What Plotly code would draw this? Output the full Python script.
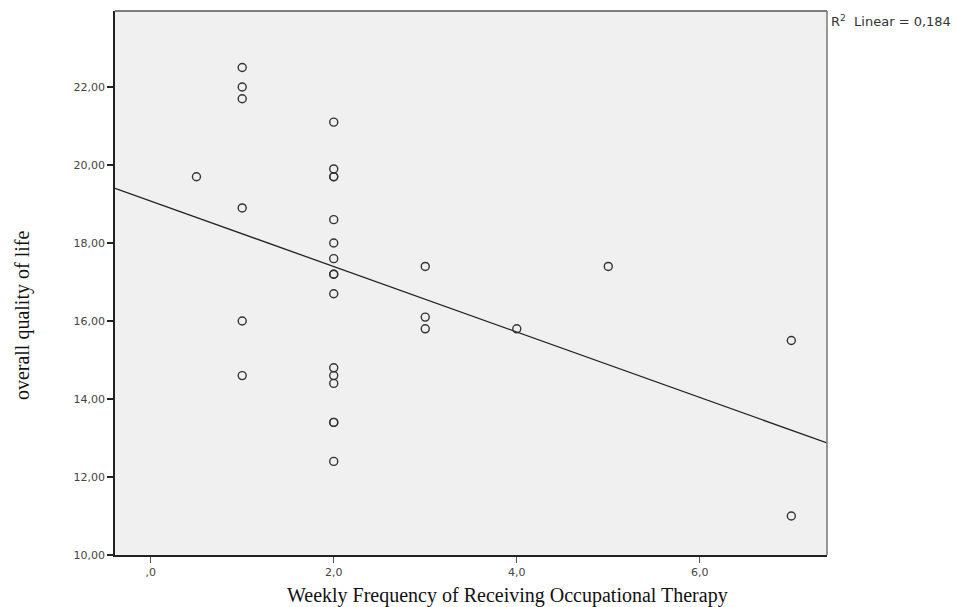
import numpy as np
import plotly.graph_objects as go

freq = [0.5,
        1, 1, 1, 1, 1, 1,
        2, 2, 2, 2, 2, 2, 2, 2, 2, 2, 2, 2, 2, 2, 2, 2,
        3, 3, 3,
        4, 5, 7, 7]
qol = [19.7,
       22.5, 22.0, 21.7, 18.9, 16.0, 14.6,
       21.1, 19.9, 19.7, 19.7, 18.6, 18.0, 17.6, 17.2, 17.2, 16.7, 14.8, 14.6, 14.4, 13.4, 13.4, 12.4,
       17.4, 16.1, 15.8,
       15.8, 17.4, 15.5, 11.0]

x_tickvals = [0, 2, 4, 6]
x_ticktext = [",0", "2,0", "4,0", "6,0"]
y_tickvals = [10, 12, 14, 16, 18, 20, 22]
y_ticktext = ["10,00", "12,00", "14,00", "16,00", "18,00", "20,00", "22,00"]

x_range = [-0.39, 7.39]
y_range = [10, 23.95]

slope, intercept = np.polyfit(freq, qol, 1)
fit_x = np.array(x_range)
fit_y = intercept + slope * fit_x

TICKFONT = dict(family="DejaVu Sans, Arial, sans-serif", size=11, color="#444444")
SERIF = dict(family="Liberation Serif, Times New Roman, serif", size=20, color="#111111")

fig = go.Figure()
fig.add_trace(go.Scatter(x=fit_x, y=fit_y, mode="lines",
                         line=dict(color="#222222", width=1.3),
                         hoverinfo="skip", showlegend=False))
fig.add_trace(go.Scatter(x=freq, y=qol, mode="markers",
                         marker=dict(symbol="circle-open", size=8,
                                     color="#333333", line=dict(width=1.4)),
                         showlegend=False))

fig.update_layout(
    width=956, height=607,
    margin=dict(l=115, r=129, t=11, b=52),
    paper_bgcolor="white",
    plot_bgcolor="#F0F0F0",
    font=TICKFONT,
    xaxis=dict(range=x_range, tickvals=x_tickvals, ticktext=x_ticktext,
               showgrid=False, zeroline=False,
               showline=True, linecolor="#222222", linewidth=1.5,
               ticks="outside", ticklen=6, tickwidth=1.2, tickcolor="#555555",
               tickfont=TICKFONT),
    yaxis=dict(range=y_range, tickvals=y_tickvals, ticktext=y_ticktext,
               showgrid=False, zeroline=False,
               showline=True, linecolor="#222222", linewidth=1.5,
               ticks="outside", ticklen=6, tickwidth=1.5, tickcolor="#222222",
               tickfont=TICKFONT),
    shapes=[dict(type="line", xref="paper", yref="paper", x0=0, x1=1, y0=1, y1=1,
                 line=dict(color="#555555", width=1.5)),
            dict(type="line", xref="paper", yref="paper", x0=1, x1=1, y0=0, y1=1,
                 line=dict(color="#777777", width=1.5))],
    annotations=[
        dict(text="R<sup>2</sup>  Linear = 0,184", xref="paper", yref="paper",
             x=1, y=1, xanchor="left", yanchor="top", xshift=2, yshift=0,
             showarrow=False,
             font=dict(family="DejaVu Sans, Arial, sans-serif", size=13, color="#333333")),
        dict(text="Weekly Frequency of Receiving Occupational Therapy",
             xref="paper", yref="paper", x=0.5506, y=0, xanchor="center", yanchor="middle",
             yshift=-40, showarrow=False, font=SERIF),
        dict(text="overall quality of life", textangle=-90,
             xref="paper", yref="paper", x=0, y=0.441, xanchor="center", yanchor="middle",
             xshift=-93, showarrow=False, font=SERIF),
    ],
)

fig.write_html("out.html", config={"displayModeBar": False},
               post_script="document.body.style.margin='0';")
